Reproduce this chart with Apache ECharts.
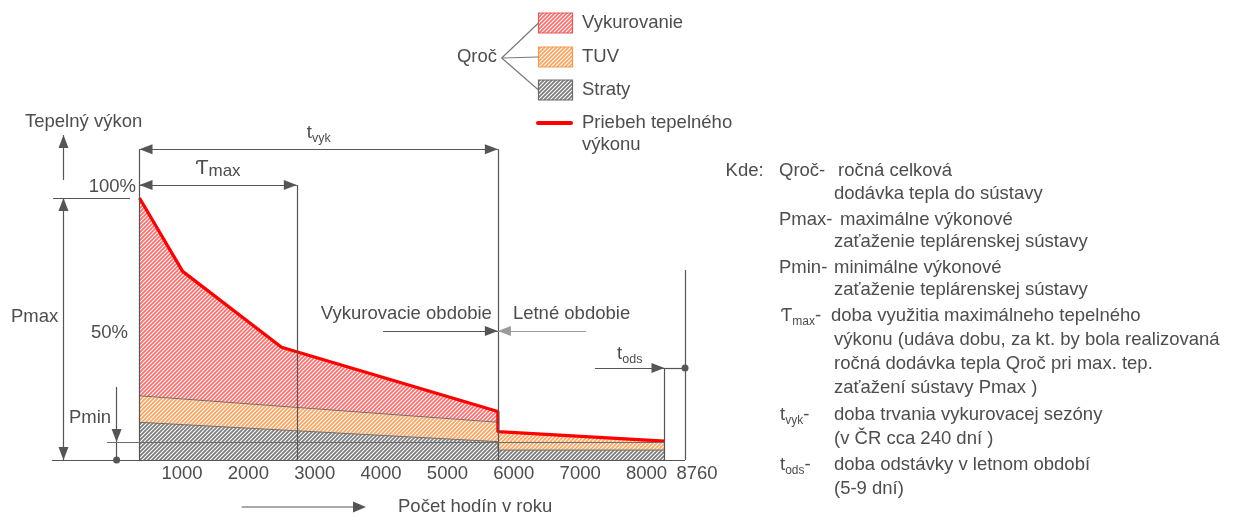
<!DOCTYPE html>
<html>
<head>
<meta charset="utf-8">
<script src="https://cdn.jsdelivr.net/npm/echarts@6/dist/echarts.min.js"></script>
<style>
  html, body { margin: 0; background: #fff; }
  #chart { width: 1236px; height: 517px; }
</style>
</head>
<body>
<div id="chart"></div>
<script>
// x: hodiny v roku, y: % z Pmax
const xTicks = [1000, 2000, 3000, 4000, 5000, 6000, 7000, 8000, 8760];
const heatLoad = [[360, 100], [1010, 72], [2500, 43], [5760, 18.5], [5760, 10.8], [8270, 7.2]];
const tuvTop = [[360, 24.5], [5760, 14.4], [5760, 10.8], [8270, 7.2]];
const lossTop = [[360, 14.4], [5760, 7.0], [5760, 3.8], [8270, 3.8]];

const tStart = 360, tMax = 2730, tVyk = 5760, tEnd = 8270, tYear = 8580;
const pMin = 6.9;

const font = "'Liberation Sans', Arial, sans-serif";
const ink = '#555555';
const txt = '#4d4d4d';
const fs = 18.5;

function hatch(color) {
    const c = document.createElement('canvas');
    c.width = c.height = 4;
    const g = c.getContext('2d');
    g.fillStyle = '#fff';
    g.fillRect(0, 0, 4, 4);
    g.strokeStyle = color;
    g.lineWidth = 1.7;
    g.beginPath();
    [-4, 0, 4].forEach((o) => { g.moveTo(o - 1, 5); g.lineTo(o + 5, -1); });
    g.stroke();
    return { image: c, repeat: 'repeat' };
}
const redHatch = hatch('#ff6b6b');
const orangeHatch = hatch('#ffa25c');
const greyHatch = hatch('#7c7c7c');

// dimension lines of the diagram
function seg(a, b, o) {
    o = o || {};
    const end = (s) => ({
        symbol: s || 'none',
        symbolSize: s === 'circle' ? 7 : [10, 13],
        symbolOffset: s === 'triangle' ? [0, 6.5] : [0, 0]
    });
    return [
        Object.assign({ coord: a }, end(o.from), {
            lineStyle: { color: o.color || ink, width: 1.2, type: 'solid' },
            label: o.label || { show: false }
        }),
        Object.assign({ coord: b }, end(o.to))
    ];
}
const subRich = {
    t: { fontSize: fs, fontFamily: font, color: txt, lineHeight: 24 },
    s: { fontSize: 12.5, fontFamily: font, color: txt, lineHeight: 8, verticalAlign: 'bottom' },
    T: { fontSize: 21, fontFamily: font, color: txt, lineHeight: 24 },
    m: { fontSize: 17, fontFamily: font, color: txt, lineHeight: 20, verticalAlign: 'bottom' }
};
const lbl = (formatter, position, distance) => ({
    show: true, formatter, position, distance,
    color: txt, fontSize: fs, fontFamily: font, rich: subRich
});

const annotations = [
    seg([-960, 0], [tYear, 0]),
    seg([tStart, 0], [tStart, 118.6]),
    seg([tVyk, 0], [tVyk, 118.6]),
    seg([tMax, 0], [tMax, 105]),
    seg([tEnd, 0], [tEnd, 35.1]),
    seg([tYear, 0], [tYear, 72.5]),
    seg([tStart, 118.6], [tVyk, 118.6], { from: 'triangle', to: 'triangle', label: lbl('{t|t}{s|vyk}', 'middle', 4) }),
    seg([tStart, 105], [tMax, 105], { from: 'triangle', to: 'triangle', label: lbl('{T|Ƭ}{m|max}', 'middle', 5) }),
    seg([-943, 100], [217, 100]),
    seg([-785, 100], [-785, 0], { from: 'triangle', to: 'triangle' }),
    seg([-785, 106.9], [-785, 124], { to: 'triangle' }),
    seg([15, 27.9], [15, pMin], { to: 'triangle' }),
    seg([15, pMin], [15, 0], { to: 'circle' }),
    seg([-130, pMin], [tEnd, pMin], { color: '#6e6e6e' }),
    seg([4030, 49.2], [tVyk, 49.2], { to: 'triangle', label: lbl('Vykurovacie obdobie', 'insideEndTop', [6, 8]) }),
    seg([tVyk, 49.2], [7088, 49.2], { from: 'triangle', color: '#9a9a9a', label: lbl('Letné obdobie', 'insideStartTop', [15, 8]) }),
    seg([7223, 35.1], [tEnd, 35.1], { to: 'triangle', label: lbl('{t|t}{s|ods}', 'middle', 2) }),
    seg([tEnd, 35.1], [tYear, 35.1], { to: 'circle' })
];

function text(x, y, str, extra) {
    return {
        type: 'text', x, y, silent: true,
        style: Object.assign({
            text: str, font: fs + 'px ' + font, fill: txt,
            textAlign: 'left', align: 'left', textVerticalAlign: 'middle', verticalAlign: 'middle'
        }, extra || {})
    };
}
function gline(x1, y1, x2, y2, color) {
    return { type: 'line', silent: true, shape: { x1, y1, x2, y2 }, style: { stroke: color || ink, lineWidth: 1.2 } };
}
const richG = {
    t: { fontSize: fs, fontFamily: font, fill: txt, lineHeight: 24 },
    s: { fontSize: 12, fontFamily: font, fill: txt, lineHeight: 8, verticalAlign: 'bottom' }
};

// legenda
const legendItems = [
    ['Vykurovanie', redHatch, '#e25b5b', 23],
    ['TUV', orangeHatch, '#f29a55', 57],
    ['Straty', greyHatch, '#6a6a6a', 90]
];
const graphics = [];
legendItems.forEach(([name, fill, stroke, y]) => {
    graphics.push({ type: 'rect', silent: true, shape: { x: 538.5, y: y - 10, width: 34, height: 20 }, style: { fill, stroke, lineWidth: 1.2 } });
    graphics.push(gline(501.7, 58, 538.5, y, '#7a7a7a'));
    graphics.push(text(582, y, name));
});
graphics.push(text(497, 57, 'Qroč', { textAlign: 'right', align: 'right' }));
graphics.push({ type: 'line', silent: true, shape: { x1: 538, y1: 123, x2: 571, y2: 123 }, style: { stroke: '#ff0000', lineWidth: 4, lineCap: 'round' } });
graphics.push(text(582, 123, 'Priebeh tepelného'));
graphics.push(text(582, 145, 'výkonu'));

// popisy pri osiach
graphics.push(text(25, 122, 'Tepelný výkon'));
graphics.push(text(136, 187, '100%', { textAlign: 'right', align: 'right' }));
graphics.push(text(11, 317, 'Pmax'));
graphics.push(text(91, 333, '50%'));
graphics.push(text(69, 418, 'Pmin'));
graphics.push(gline(241.7, 507, 354, 507));
graphics.push({ type: 'polygon', silent: true, shape: { points: [[353, 501.5], [366, 507], [353, 512.5]] }, style: { fill: ink } });
graphics.push(text(398, 507, 'Počet hodín v roku'));

// vysvetlivky
const notes = [
    [725.6, 170.5, 'Kde:'],
    [779, 170.5, 'Qroč-'], [838, 170.5, 'ročná celková'],
    [834, 194.4, 'dodávka tepla do sústavy'],
    [779, 220, 'Pmax-'], [840, 220, 'maximálne výkonové'],
    [834, 242.3, 'zaťaženie teplárenskej sústavy'],
    [779, 268, 'Pmin-'], [834, 268, 'minimálne výkonové'],
    [834, 290, 'zaťaženie teplárenskej sústavy'],
    [831, 315.8, 'doba využitia maximálneho tepelného'],
    [834, 339.7, 'výkonu (udáva dobu, za kt. by bola realizovaná'],
    [834, 363.7, 'ročná dodávka tepla Qroč pri max. tep.'],
    [834, 387.6, 'zaťažení sústavy Pmax )'],
    [834, 415, 'doba trvania vykurovacej sezóny'],
    [834, 439, '(v ČR cca 240 dní )'],
    [834, 464.5, 'doba odstávky v letnom období'],
    [834, 488.5, '(5-9 dní)']
];
notes.forEach(([x, y, s]) => graphics.push(text(x, y, s)));
graphics.push(text(781, 315.8, '{t|Ƭ}{s|max}-', { rich: richG }));
graphics.push(text(780, 415, '{t|t}{s|vyk}-', { rich: richG }));
graphics.push(text(780, 464.5, '{t|t}{s|ods}-', { rich: richG }));

const chart = echarts.init(document.getElementById('chart'));
chart.setOption({
    animation: false,
    backgroundColor: '#fff',
    grid: { left: 49.23, right: 523.07, top: 119.4, bottom: 57, outerBoundsMode: 'none' },
    xAxis: {
        type: 'value', min: -1000, max: 9000,
        axisLine: { show: false }, axisTick: { show: false }, splitLine: { show: false },
        axisLabel: {
            customValues: xTicks, margin: 4, color: txt, fontSize: fs, fontFamily: font,
            formatter: (v) => String(v)
        }
    },
    yAxis: { type: 'value', min: 0, max: 130, show: false, splitLine: { show: false } },
    graphic: { elements: graphics },
    series: [
        {
            name: 'Vykurovanie', type: 'line', data: heatLoad, symbol: 'none', silent: true,
            lineStyle: { width: 0, opacity: 0 }, areaStyle: { color: redHatch, opacity: 1 }
        },
        {
            name: 'TUV', type: 'line', data: tuvTop, symbol: 'none', silent: true,
            lineStyle: { width: 1, color: '#707070' }, areaStyle: { color: orangeHatch, opacity: 1 }
        },
        {
            name: 'Straty', type: 'line', data: lossTop, symbol: 'none', silent: true,
            lineStyle: { width: 1, color: '#707070' }, areaStyle: { color: greyHatch, opacity: 1 }
        },
        {
            name: 'Priebeh tepelného výkonu', type: 'line', data: heatLoad, symbol: 'none', silent: true,
            lineStyle: { width: 3.2, color: '#ff0000' },
            markLine: { silent: true, animation: false, emphasis: { disabled: true }, data: annotations }
        }
    ]
});
</script>
</body>
</html>
